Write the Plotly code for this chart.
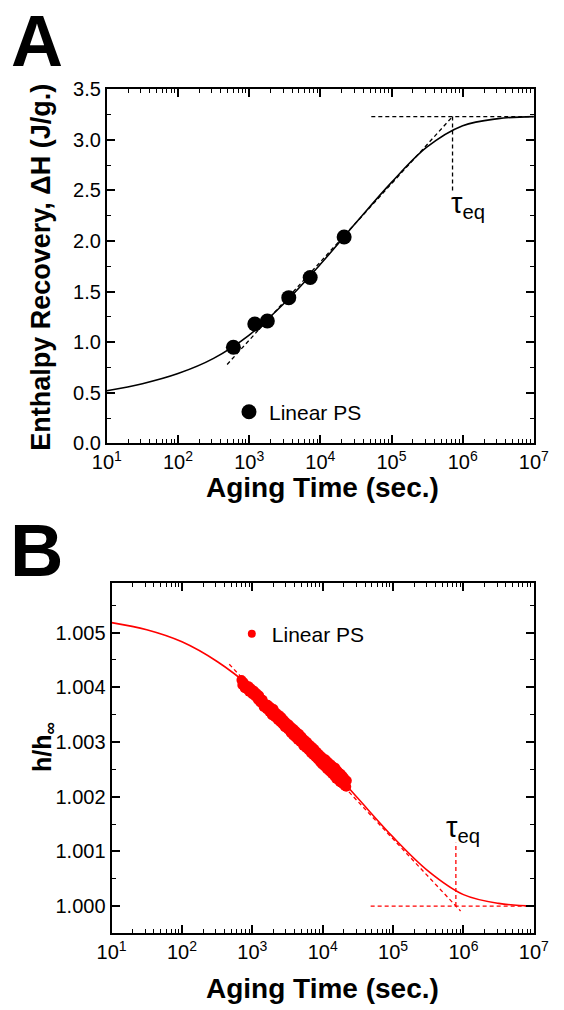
import plotly.graph_objects as go

# ---------------- Panel A data ----------------
tA = [600, 1200, 1800, 3600, 7200, 21600]
dHA = [0.95, 1.18, 1.21, 1.44, 1.64, 2.04]
fitA_t = [10, 31.6, 100, 316, 1000, 3160, 10000, 31600, 100000, 316000, 1000000, 3160000, 10000000]
fitA_y = [0.52, 0.59, 0.69, 0.84, 1.07, 1.39, 1.77, 2.18, 2.58, 2.93, 3.14, 3.21, 3.23]
tanA_t = [490, 720000]
tanA_y = [0.78, 3.23]
tauA_t = [720000, 720000]
tauA_y = [3.23, 2.48]
eqA_t = [52000, 10000000]
eqA_y = [3.23, 3.23]

# ---------------- Panel B data ----------------
tB = [700, 720, 750, 780, 800, 850, 880, 900, 950, 1000, 1050, 1100, 1150, 1200, 1250,
      1300, 1400, 1450, 1500, 1600, 1650, 1750, 1800, 1900, 2000, 2100, 2200, 2300, 2400,
      2500, 2600, 2700, 2800, 2900, 3000, 3200, 3300, 3500, 3600, 3800, 3900, 4100, 4200,
      4400, 4600, 4800, 5000, 5300, 5500, 5800, 6000, 6300, 6500, 6800, 7000, 7300, 7600,
      7900, 8200, 8500, 8800, 9200, 9500, 9800, 10200, 10600, 11000, 11500, 12000, 12500,
      13000, 13500, 14000, 14500, 15000, 15500, 16000, 16500, 17000, 17500, 18000, 18500,
      19000, 19500, 20000, 20500, 21000, 21600, 22000]
hB = [1.00413, 1.00404, 1.00409, 1.00398, 1.00404, 1.00396, 1.00402, 1.00392, 1.00398, 1.00387,
      1.00394, 1.00383, 1.00389, 1.00377, 1.00385, 1.00372, 1.00377, 1.00364, 1.00370, 1.00360,
      1.00368, 1.00355, 1.00364, 1.00349, 1.00360, 1.00345, 1.00353, 1.00340, 1.00349, 1.00336,
      1.00345, 1.00332, 1.00340, 1.00327, 1.00336, 1.00323, 1.00332, 1.00317, 1.00327, 1.00312,
      1.00323, 1.00308, 1.00319, 1.00304, 1.00315, 1.00300, 1.00310, 1.00293, 1.00304, 1.00289,
      1.00300, 1.00285, 1.00295, 1.00280, 1.00291, 1.00276, 1.00287, 1.00272, 1.00282, 1.00268,
      1.00278, 1.00263, 1.00274, 1.00259, 1.00270, 1.00255, 1.00268, 1.00250, 1.00263, 1.00246,
      1.00259, 1.00242, 1.00255, 1.00238, 1.00253, 1.00233, 1.00248, 1.00231, 1.00244, 1.00227,
      1.00242, 1.00225, 1.00238, 1.00223, 1.00235, 1.00220, 1.00231, 1.00218, 1.00229]
fitB_t = [10, 31.6, 100, 316, 1000, 3160, 10000, 31600, 100000, 316000, 1000000, 3160000, 10000000]
fitB_y = [1.00518, 1.00505, 1.00483, 1.00447, 1.00398, 1.00337, 1.00269, 1.00197, 1.00126,
          1.00064, 1.00021, 1.00005, 1.00000]
tanB_t = [470, 910000]
tanB_y = [1.00442, 0.99991]
tauB_t = [780000, 780000]
tauB_y = [1.00000, 1.00116]
eqB_t = [48000, 10000000]
eqB_y = [1.0, 1.0]

x_tickvals = [10, 100, 1000, 10000, 100000, 1000000, 10000000]
x_ticktext = ["10<sup>1</sup>", "10<sup>2</sup>", "10<sup>3</sup>", "10<sup>4</sup>",
              "10<sup>5</sup>", "10<sup>6</sup>", "10<sup>7</sup>"]

FONT = "Arial, Liberation Sans, sans-serif"
RED = "#ff0000"
W, H = 564, 1010
DASH = "4px,3px"

fig = go.Figure()

# Panel A
for xs, ys in [(tanA_t, tanA_y), (tauA_t, tauA_y), (eqA_t, eqA_y)]:
    fig.add_trace(go.Scatter(x=xs, y=ys, mode="lines", line=dict(color="black", width=1.3, dash=DASH),
                             showlegend=False, xaxis="x", yaxis="y", hoverinfo="skip"))
fig.add_trace(go.Scatter(x=fitA_t, y=fitA_y, mode="lines", line=dict(color="black", width=1.6, shape="spline"),
                         showlegend=False, xaxis="x", yaxis="y"))
fig.add_trace(go.Scatter(x=tA, y=dHA, mode="markers", name="Linear PS",
                         marker=dict(color="black", size=15), xaxis="x", yaxis="y", legend="legend"))

# Panel B
for xs, ys in [(tanB_t, tanB_y), (tauB_t, tauB_y), (eqB_t, eqB_y)]:
    fig.add_trace(go.Scatter(x=xs, y=ys, mode="lines", line=dict(color=RED, width=1.3, dash=DASH),
                             showlegend=False, xaxis="x2", yaxis="y2", hoverinfo="skip"))
fig.add_trace(go.Scatter(x=fitB_t, y=fitB_y, mode="lines", line=dict(color=RED, width=1.6, shape="spline"),
                         showlegend=False, xaxis="x2", yaxis="y2"))
fig.add_trace(go.Scatter(x=tB, y=hB, mode="markers", name="Linear PS", showlegend=False,
                         marker=dict(color=RED, size=10), xaxis="x2", yaxis="y2"))
# legend entry (smaller symbol, as in the original legend)
fig.add_trace(go.Scatter(x=[None], y=[None], mode="markers", name="Linear PS",
                         marker=dict(color=RED, size=8), xaxis="x2", yaxis="y2", legend="legend2"))

common_x = dict(type="log", range=[1, 7], tickvals=x_tickvals, ticktext=x_ticktext,
                showline=True, linewidth=2, linecolor="black", mirror="ticks",
                ticks="inside", ticklen=8, tickwidth=1.5, tickcolor="black",
                tickfont=dict(family=FONT, size=20, color="black"),
                showgrid=False, zeroline=False,
                minor=dict(ticks="inside", ticklen=4, tickwidth=1, tickcolor="black", dtick="D1", showgrid=False))
common_y = dict(showline=True, linewidth=2, linecolor="black", mirror="ticks",
                ticks="inside", ticklen=8, tickwidth=1.5, tickcolor="black",
                tickfont=dict(family=FONT, size=20, color="black"),
                showgrid=False, zeroline=False)

fig.update_layout(
    width=W, height=H, margin=dict(l=0, r=0, t=0, b=0),
    paper_bgcolor="white", plot_bgcolor="white",
    font=dict(family=FONT, color="black"),
    xaxis=dict(common_x, domain=[97 / W, 548 / W], anchor="y"),
    yaxis=dict(common_y, domain=[(H - 442) / H, (H - 80) / H], anchor="x", range=[0, 3.5], dtick=0.5,
               tickformat=".1f", minor=dict(ticks="inside", ticklen=4, tickwidth=1, tickcolor="black",
                                            dtick=0.25, showgrid=False)),
    xaxis2=dict(common_x, domain=[102 / W, 548 / W], anchor="y2"),
    yaxis2=dict(common_y, domain=[(H - 943) / H, (H - 585) / H], anchor="x2", range=[0.9995, 1.0059],
                tick0=1.0, dtick=0.001, tickformat=".3f",
                minor=dict(ticks="inside", ticklen=4, tickwidth=1, tickcolor="black", dtick=0.0005,
                           tick0=1.0, showgrid=False)),
    legend=dict(x=226 / W, y=1 - 410 / H, xanchor="left", yanchor="middle", bgcolor="rgba(0,0,0,0)",
                font=dict(family=FONT, size=21, color="black"), borderwidth=0),
    legend2=dict(x=229 / W, y=1 - 637 / H, xanchor="left", yanchor="middle", bgcolor="rgba(0,0,0,0)",
                 font=dict(family=FONT, size=21, color="black"), borderwidth=0),
)

ann = [
    dict(text="<b>A</b>", x=23 / W, y=1 - 31 / H, font=dict(size=72)),
    dict(text="<b>B</b>", x=23 / W, y=1 - 552 / H, font=dict(size=74)),
    dict(text="<b>Aging Time (sec.)</b>", x=325 / W, y=1 - 487 / H, font=dict(size=28)),
    dict(text="<b>Aging Time (sec.)</b>", x=325 / W, y=1 - 999 / H, font=dict(size=28)),
    dict(text="<b>Enthalpy Recovery, ΔH (J/g.)</b>", x=28 / W, y=1 - 262 / H, font=dict(size=27), textangle=-90),
    dict(text="<b>h/h<sub>∞</sub></b>", x=30 / W, y=1 - 752 / H, font=dict(size=25), textangle=-90),
]
for a in ann:
    fig.add_annotation(xref="paper", yref="paper", showarrow=False, xanchor="center", yanchor="middle",
                       text=a["text"], x=a["x"], y=a["y"], textangle=a.get("textangle", 0),
                       font=dict(family=FONT, color="black", **a["font"]))

fig.add_annotation(xref="x", yref="y", x=6.08, y=2.36, text="τ<sub>eq</sub>", showarrow=False,
                   font=dict(family=FONT, size=29, color="black"), xanchor="center", yanchor="middle")
fig.add_annotation(xref="x2", yref="y2", x=6.0, y=1.00140, text="τ<sub>eq</sub>", showarrow=False,
                   font=dict(family=FONT, size=29, color="black"), xanchor="center", yanchor="middle")

fig.write_html("out.html")
